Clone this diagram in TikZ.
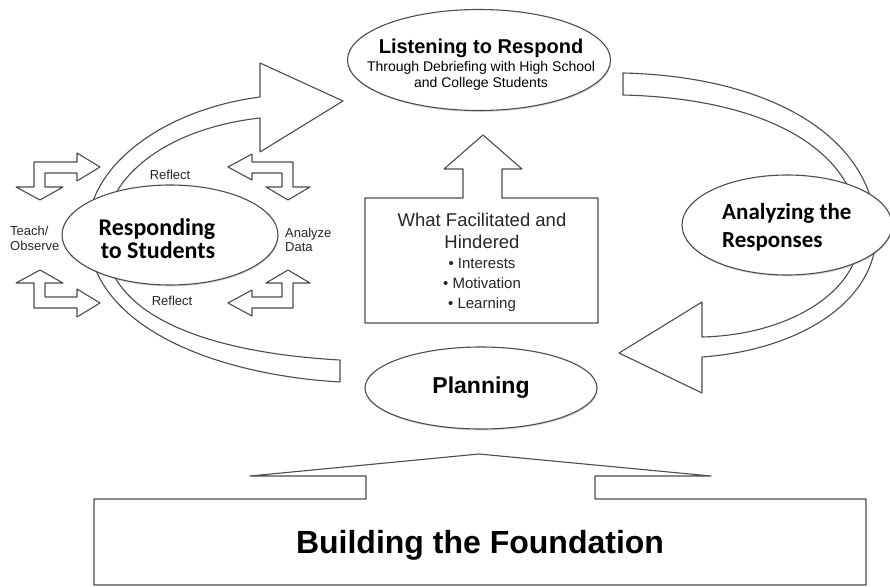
\documentclass[tikz,border=0pt]{standalone}
\usepackage{fontspec}
\setmainfont{Liberation Sans}
\newfontfamily\carlito{Carlito}
\usetikzlibrary{shapes.geometric,shadows}

\begin{document}
\begin{tikzpicture}[x=1pt,y=-1pt,
  outline/.style={draw=black!70, line width=1.1pt, fill=white, line join=round},
  oval/.style={ellipse, draw=black!70, line width=1.1pt, fill=white, inner sep=0pt,
    drop shadow={shadow xshift=0.6pt, shadow yshift=-1.4pt, opacity=0.3}},
  tiny/.style={font=\fontsize{13}{15}\selectfont, inner sep=0pt, text=black!85},
  cycletitle/.style={font=\carlito\bfseries\fontsize{24}{26}\selectfont, inner sep=0pt},
  boxtitle/.style={font=\fontsize{18.5}{20}\selectfont, inner sep=0pt, text=black!85},
  bullet/.style={font=\fontsize{15}{17}\selectfont, inner sep=0pt, text=black!85}]
\useasboundingbox (0,0) rectangle (890,586);

% large curved arrow on the left: from the tail near Planning up to Listening
\draw[outline] (340,360) -- (340,382)
  .. controls (220,375) and (95,330) .. (88,238)
  .. controls (82,170) and (160,110) .. (260,97)
  -- (260,63) -- (343,101) -- (260,152) -- (260,118)
  .. controls (170,128) and (102,175) .. (104,240)
  .. controls (108,325) and (230,354) .. (340,360) -- cycle;

% large curved arrow on the right: from Listening down to Planning
\draw[outline] (623,73) .. controls (760,76) and (868,130) .. (876,225)
  .. controls (882,300) and (800,350) .. (702,357)
  -- (702,393) -- (619,353) -- (702,302) -- (702,337)
  .. controls (790,335) and (866,290) .. (860,225)
  .. controls (850,140) and (750,98) .. (623,95) -- cycle;

% the four stages
\node[oval, minimum width=263, minimum height=101] (listen) at (479,60) {};
\node[oval, minimum width=216, minimum height=100] (respond) at (170,235) {};
\node[oval, minimum width=210, minimum height=100] (analyze) at (787,225) {};
\node[oval, minimum width=232, minimum height=82,
      font=\bfseries\fontsize{23}{25}\selectfont] (plan) at (481,388) {Planning};

\node[anchor=base, inner sep=0pt, font=\bfseries\fontsize{20}{22}\selectfont]
  (listenA) at (481,53) {Listening to Respond};
\node[anchor=base, inner sep=0pt, font=\fontsize{14}{15}\selectfont]
  (listenB) at (481,71.5) {Through Debriefing with High School};
\node[anchor=base, inner sep=0pt, font=\fontsize{14}{15}\selectfont]
  (listenC) at (481,87) {and College Students};

\node[cycletitle, anchor=base] (respondA) at (157,235) {Responding};
\node[cycletitle, anchor=base] (respondB) at (158,258) {to Students};

\node[cycletitle, font=\carlito\bfseries\fontsize{23}{25}\selectfont, anchor=base west]
  (analyzeA) at (722,219) {Analyzing the};
\node[cycletitle, font=\carlito\bfseries\fontsize{23}{25}\selectfont, anchor=base west]
  (analyzeB) at (722,247) {Responses};

% small elbow arrows round the inner cycle
\draw[outline] (34,162) -- (77,162) -- (77,153) -- (100,167) -- (77,181) -- (77,173)
  -- (45,173) -- (45,187) -- (63,187) -- (40,200) -- (16,187) -- (34,187) -- cycle;
\draw[outline] (34,308) -- (77,308) -- (77,317) -- (100,303) -- (77,289) -- (77,297)
  -- (45,297) -- (45,283) -- (63,283) -- (40,270) -- (16,283) -- (34,283) -- cycle;
\draw[outline] (228,167) -- (252,154) -- (252,162) -- (293,162) -- (293,187) -- (310,187)
  -- (288,200) -- (266,187) -- (282,187) -- (282,173) -- (252,173) -- (252,180) -- cycle;
\draw[outline] (228,303) -- (252,316) -- (252,308) -- (293,308) -- (293,283) -- (310,283)
  -- (288,270) -- (266,283) -- (282,283) -- (282,297) -- (252,297) -- (252,290) -- cycle;

\node[tiny, anchor=base west] (teachA) at (10,235) {Teach/};
\node[tiny, anchor=base west] (teachB) at (10,250) {Observe};
\node[tiny, anchor=base west] (dataA) at (285,237) {Analyze};
\node[tiny, anchor=base west] (dataB) at (285,251) {Data};
\node[tiny, anchor=base] (reflectA) at (170,179) {Reflect};
\node[tiny, anchor=base] (reflectB) at (172,305) {Reflect};

% box with an arrow pointing up to Listening
\draw[outline] (365,198) -- (463,198) -- (463,169) -- (444,169) -- (483,135) -- (522,169)
  -- (502,169) -- (502,198) -- (598,198) -- (598,323) -- (365,323) -- cycle;
\coordinate (factop) at (483,135);
\node[boxtitle, anchor=base] (facA) at (482,226) {What Facilitated and};
\node[boxtitle, anchor=base] (facB) at (482,248) {Hindered};
\node[bullet, anchor=base] (facC) at (482,268) {• Interests};
\node[bullet, anchor=base] (facD) at (482,288) {• Motivation};
\node[bullet, anchor=base] (facE) at (482,308) {• Learning};

% foundation block with its roof
\draw[outline] (94,499) -- (366,499) -- (366,476) -- (250,476) -- (479,454) -- (711,476)
  -- (595,476) -- (595,499) -- (866,499) -- (866,585) -- (94,585) -- cycle;
\node[anchor=base, inner sep=0pt, font=\bfseries\fontsize{32}{34}\selectfont]
  (found) at (480,553) {Building the Foundation};
\end{tikzpicture}
\end{document}
